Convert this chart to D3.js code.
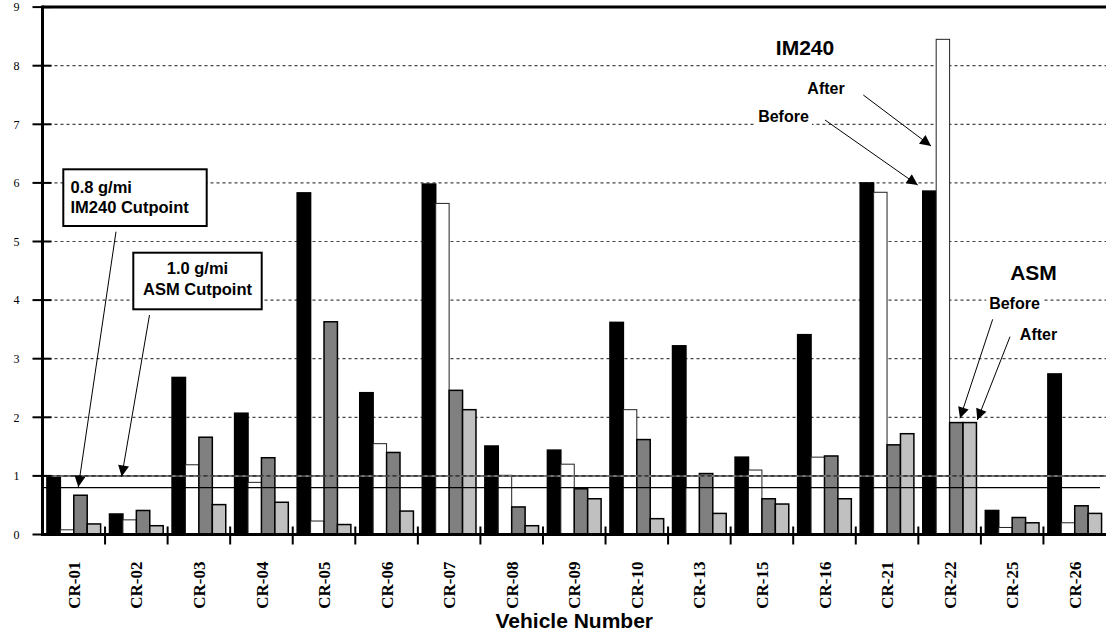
<!DOCTYPE html>
<html><head><meta charset="utf-8">
<script src="https://cdn.jsdelivr.net/npm/d3@7"></script>
<style>
html,body{margin:0;padding:0;background:#fff;}
svg{display:block;}
</style></head>
<body>
<svg id="chart" width="1106" height="637"></svg>
<script>
const categories = ["CR-01","CR-02","CR-03","CR-04","CR-05","CR-06","CR-07","CR-08","CR-09","CR-10","CR-13","CR-15","CR-16","CR-21","CR-22","CR-25","CR-26"];
const im240Before = [1.00,0.35,2.68,2.07,5.83,2.42,5.98,1.51,1.44,3.62,3.22,1.32,3.41,6.00,5.86,0.41,2.74];
const im240After  = [0.08,0.25,1.19,0.89,0.23,1.55,5.65,1.01,1.20,2.13,0.80,1.10,1.32,5.84,8.45,0.12,0.20];
const asmBefore   = [0.67,0.41,1.66,1.31,3.63,1.40,2.46,0.47,0.78,1.62,1.04,0.61,1.34,1.53,1.91,0.29,0.49];
const asmAfter    = [0.18,0.15,0.51,0.55,0.17,0.40,2.13,0.15,0.61,0.27,0.36,0.52,0.61,1.72,1.91,0.20,0.36];
const seriesNames = ["IM240 Before","IM240 After","ASM Before","ASM After"];
const seriesFill = ["#000000","#ffffff","#808080","#c0c0c0"];
const yTicks = [0,1,2,3,4,5,6,7,8,9];
const gridValues = [2,3,4,5,6,7,8];
const im240Cut = 0.8, asmCut = 1.0;

(function(){
const svg = d3.select("#chart");
const pLeft = 42.5, pRight = 1106, pTop = 7.1, pBottom = 534.5;

const x = d3.scaleBand().domain(categories).range([pLeft, pRight]).paddingInner(0).paddingOuter(0);
const xi = d3.scaleBand().domain(seriesNames).range([0, x.bandwidth()]).paddingInner(0).paddingOuter(0.33);
const y = d3.scaleLinear().domain([0, 9]).range([pBottom, pTop]);

const defs = svg.append("defs");
defs.append("marker").attr("id","ah").attr("viewBox","0 0 10 10").attr("refX",10).attr("refY",5)
  .attr("markerWidth",12).attr("markerHeight",11).attr("markerUnits","userSpaceOnUse").attr("orient","auto")
  .append("path").attr("d","M0,0 L10,5 L0,10 Z").attr("fill","#000");

// gridlines
svg.append("g").selectAll("line").data(gridValues).join("line")
  .attr("x1", pLeft).attr("x2", pRight).attr("y1", d=>y(d)).attr("y2", d=>y(d))
  .attr("stroke","#444").attr("stroke-width",1.2).attr("stroke-dasharray","3,3");

// bars
const data = categories.map((c,i)=>({c, v:[im240Before[i],im240After[i],asmBefore[i],asmAfter[i]]}));
const grp = svg.append("g").selectAll("g").data(data).join("g")
  .attr("transform", d=>`translate(${x(d.c)},0)`);
grp.selectAll("rect").data(d=>d.v.map((v,k)=>({v,k}))).join("rect")
  .attr("x", d=>xi(seriesNames[d.k]))
  .attr("width", xi.bandwidth())
  .attr("y", d=>y(d.v))
  .attr("height", d=>pBottom - y(d.v))
  .attr("fill", d=>seriesFill[d.k])
  .attr("stroke", d=> d.k===1 ? "#222" : "#000")
  .attr("stroke-width", d=> d.k===1 ? 1 : 1.5);

// cutpoint lines
svg.append("line").attr("x1",pLeft).attr("x2",pRight).attr("y1",y(asmCut)).attr("y2",y(asmCut))
  .attr("stroke","#777").attr("stroke-width",2);
svg.append("line").attr("x1",pLeft).attr("x2",pRight).attr("y1",y(asmCut)).attr("y2",y(asmCut))
  .attr("stroke","#222").attr("stroke-width",1.2).attr("stroke-dasharray","4,3");
svg.append("line").attr("x1",pLeft).attr("x2",1100).attr("y1",y(im240Cut)).attr("y2",y(im240Cut))
  .attr("stroke","#000").attr("stroke-width",1.2);

// axes
const yAxis = d3.axisLeft(y).tickValues(yTicks).tickSize(0).tickFormat(d3.format("d"));
const ya = svg.append("g").attr("transform",`translate(${pLeft},0)`).call(yAxis);
ya.select(".domain").remove();
ya.selectAll("text").attr("x",-23).attr("font-family","'Liberation Serif','Times New Roman',serif").attr("font-size",12).attr("fill","#000");
svg.append("g").selectAll("line").data(yTicks).join("line")
  .attr("x1",pLeft-10).attr("x2",pLeft+9).attr("y1",d=>y(d)).attr("y2",d=>y(d))
  .attr("stroke","#000").attr("stroke-width",2);
svg.append("line").attr("x1",pLeft).attr("x2",pLeft).attr("y1",pTop-1.5).attr("y2",pBottom+1.5)
  .attr("stroke","#000").attr("stroke-width",3);
svg.append("line").attr("x1",pLeft).attr("x2",pRight).attr("y1",pTop).attr("y2",pTop)
  .attr("stroke","#000").attr("stroke-width",3);
svg.append("line").attr("x1",pLeft).attr("x2",pRight).attr("y1",pBottom).attr("y2",pBottom)
  .attr("stroke","#000").attr("stroke-width",3);

const xAxis = d3.axisBottom(x).tickSize(0).tickPadding(0);
const xa = svg.append("g").attr("transform",`translate(0,${pBottom})`).call(xAxis);
xa.select(".domain").remove();
xa.selectAll("text")
  .attr("transform","rotate(-90)")
  .attr("x",-27).attr("y",0).attr("dy","0.36em")
  .attr("text-anchor","end")
  .attr("font-family","'Liberation Serif','Times New Roman',serif")
  .attr("font-weight","bold").attr("font-size",17).attr("fill","#000");
// group separator ticks
svg.append("g").selectAll("line").data(categories.slice(1)).join("line")
  .attr("x1",d=>x(d)).attr("x2",d=>x(d)).attr("y1",pBottom-8).attr("y2",pBottom+10)
  .attr("stroke","#000").attr("stroke-width",2);

const sans = "'Liberation Sans',Arial,Helvetica,sans-serif";
svg.append("text").attr("x",(pLeft+pRight)/2).attr("y",628).attr("text-anchor","middle")
  .attr("font-family",sans).attr("font-weight","bold").attr("font-size",21).text("Vehicle Number");

// arrows
function arrow(x1,y1,x2,y2){
  svg.append("line").attr("x1",x1).attr("y1",y1).attr("x2",x2).attr("y2",y2)
    .attr("stroke","#000").attr("stroke-width",1).attr("marker-end","url(#ah)");
}
arrow(116,231.7,78.3,487);
arrow(149.5,315,121.7,476.5);
arrow(863.3,95,931,146);
arrow(825,120,917.7,185);
arrow(992.7,319.3,960,418.3);
arrow(1010,336.7,977.3,420);

// annotation boxes
function box(x0,y0,w,h){
  svg.append("rect").attr("x",x0).attr("y",y0).attr("width",w).attr("height",h)
    .attr("fill","#fff").attr("stroke","#000").attr("stroke-width",2);
}
function label(t,xx,yy,size,anchor,bg){
  const g = svg.append("g");
  const el = g.append("text").attr("x",xx).attr("y",yy).attr("text-anchor",anchor||"start")
    .attr("font-family",sans).attr("font-weight","bold").attr("font-size",size).attr("fill","#000").text(t);
  if(bg){
    const b = el.node().getBBox();
    g.insert("rect","text").attr("x",b.x-3).attr("y",b.y-1).attr("width",b.width+6).attr("height",b.height+2).attr("fill","#fff");
  }
  return el;
}
box(63.3,169.3,143.4,56.7);
label("0.8 g/mi",70.5,192.5,16.5);
label("IM240 Cutpoint",70.5,213,16.5);
box(133.3,252.7,128.4,56.6);
label("1.0 g/mi",197.5,274,16.5,"middle");
label("ASM Cutpoint",197.5,295,16.5,"middle");

label("IM240",805,55,21,"middle",true);
label("After",826,93.5,16,"middle",true);
label("Before",783.5,122,16,"middle",true);
label("ASM",1033.5,280,21,"middle",true);
label("Before",1014.5,308.5,16,"middle",true);
label("After",1038.5,339.5,16,"middle",true);
})();
</script>
</body></html>
